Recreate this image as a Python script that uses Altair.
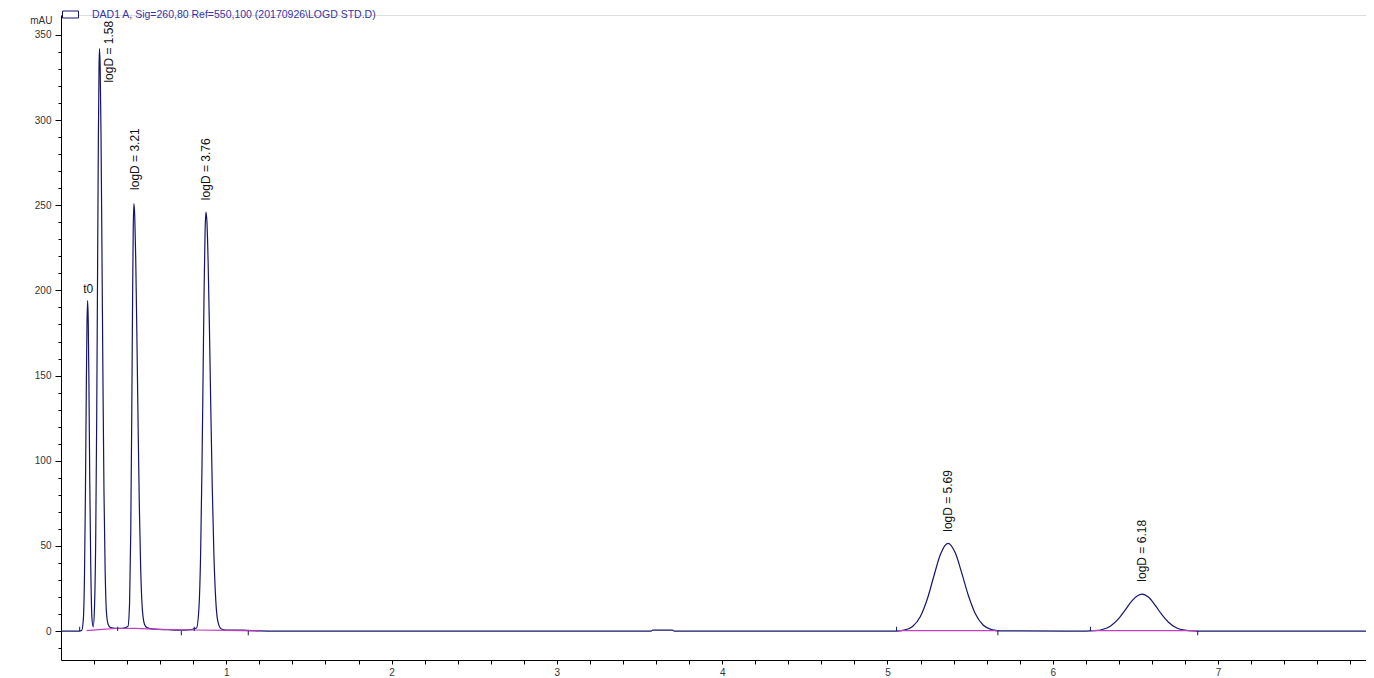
import altair as alt
import pandas as pd

legend_text = "DAD1 A, Sig=260,80 Ref=550,100 (20170926\\LOGD STD.D)"

# Chromatogram trace (retention time in min, absorbance in mAU)
trace_time = [0.000, 0.110, 0.125, 0.135, 0.142, 0.148, 0.153, 0.157, 0.161, 0.165, 0.169, 0.174, 0.180, 0.187, 0.195,
              0.203, 0.210, 0.216, 0.221, 0.226, 0.230, 0.233, 0.237, 0.242, 0.248, 0.254, 0.260, 0.267, 0.275, 0.285,
              0.300, 0.330, 0.370,
              0.405, 0.415, 0.422, 0.428, 0.433, 0.437, 0.441, 0.446, 0.452, 0.459, 0.466, 0.474, 0.482, 0.492, 0.505,
              0.520, 0.550, 0.650, 0.750,
              0.820, 0.835, 0.845, 0.853, 0.860, 0.866, 0.872, 0.877, 0.883, 0.890, 0.898, 0.906, 0.915, 0.925, 0.937,
              0.950, 0.970, 1.000, 1.100, 1.200, 1.250,
              3.570, 3.580, 3.700, 3.710,
              5.050, 5.100, 5.150, 5.200, 5.240, 5.280, 5.320, 5.366, 5.410, 5.450, 5.490, 5.530, 5.580, 5.630, 5.680,
              6.200, 6.250, 6.300, 6.350, 6.400, 6.440, 6.480, 6.539, 6.580, 6.620, 6.660, 6.700, 6.750, 6.800, 6.850,
              6.900, 7.950]
trace_mau = [0, 0, 0.3, 6.6, 32, 83, 141, 179, 194, 181, 145, 88, 38, 8, 2.5,
             15, 54, 125, 207, 288, 331, 342, 331, 292, 220, 145, 82, 36, 11, 4,
             2.0, 1.6, 1.6,
             2.7, 17, 58, 126, 194, 236, 251, 244, 219, 174, 124, 73, 37, 13, 4,
             2.0, 1.3, 0.8, 0.5,
             1.8, 14.4, 47, 97, 154, 202, 236, 246, 240, 217, 178, 132, 85, 45, 17,
             5.2, 1.2, 0.6, 0.5, 0.1, 0,
             0, 0.5, 0.5, 0,
             0, 0.5, 2.5, 8.7, 18.5, 32, 44.9, 51.5, 45.9, 33.9, 20.7, 10.5, 3.4, 0.8, 0.1,
             0, 0.2, 0.9, 3.0, 7.4, 12.6, 17.9, 21.7, 19.8, 15.1, 9.6, 5.2, 1.8, 0.5, 0.1,
             0, 0]

# Integration baselines (magenta)
base_segment = ["a"] * 8 + ["b"] * 2 + ["c"] * 2
base_time = [0.155, 0.250, 0.330, 0.450, 0.600, 0.800, 1.000, 1.200, 5.060, 5.665, 6.230, 6.875]
base_mau = [0.3, 1.0, 1.5, 1.6, 1.0, 0.6, 0.4, 0.1, 0.3, 0.3, 0.3, 0.3]

# Peak start / end event ticks
event_time = [0.113, 0.343, 0.728, 0.806, 1.133, 5.055, 5.668, 6.228, 6.877]
event_top = [2.5, 2.5, -2.5, 2.5, -2.5, 2.5, -2.5, 2.5, -2.5]

# Peak annotations
label_text = ["logD = 1.58", "logD = 3.21", "logD = 3.76", "logD = 5.69", "logD = 6.18"]
label_time = [0.292, 0.449, 0.879, 5.366, 6.539]
label_mau = [322, 259, 253, 58.3, 29]

t0_text = ["t0"]
t0_time = [0.165]
t0_mau = [201]

x_tick_values = [round(0.2 * i, 1) for i in range(1, 40)]
y_tick_values = list(range(-10, 360, 10))

X_DOMAIN = [0, 7.895]
Y_DOMAIN = [-17.0, 361.7]
NAVY = "#14146e"
FONT = "Liberation Sans"

trace_df = pd.DataFrame({"t": trace_time, "mau": trace_mau, "series": legend_text})
base_df = pd.DataFrame({"t": base_time, "mau": base_mau, "seg": base_segment})
event_df = pd.DataFrame({"t": event_time, "y0": [0] * len(event_time), "y1": event_top})
label_df = pd.DataFrame({"t": label_time, "mau": label_mau, "txt": label_text})
t0_df = pd.DataFrame({"t": t0_time, "mau": t0_mau, "txt": t0_text})

xscale = alt.Scale(domain=X_DOMAIN, nice=False, zero=False)
yscale = alt.Scale(domain=Y_DOMAIN, nice=False, zero=False)

x_axis = alt.Axis(
    values=x_tick_values, tickCount=500,
    labelExpr="abs(datum.value - round(datum.value)) < 0.001 ? format(datum.value, 'd') : ''",
    tickSize=4, tickColor="black", domainColor="black", domainWidth=1, tickWidth=1,
    labelFont=FONT, labelFontSize=10, labelColor="#333333", labelPadding=3,
    labelOverlap=False, labelFlush=False, grid=False, title=None,
)
y_axis = alt.Axis(
    values=y_tick_values, tickCount=500,
    labelExpr="datum.value % 50 === 0 ? datum.label : ''",
    tickSize={"condition": {"test": "datum.value % 50 === 0", "value": 6}, "value": 3},
    tickColor="black", domainColor="black", domainWidth=1, tickWidth=1,
    labelFont=FONT, labelFontSize=10, labelColor="#333333", labelPadding=4,
    labelOverlap=False, labelFlush=False, grid=False,
    title="mAU", titleAngle=0, titleAlign="right", titleBaseline="alphabetic",
    titleX=-9, titleY=8, titleFont=FONT, titleFontSize=10, titleFontWeight="normal",
    titleColor="#333333",
)

trace = alt.Chart(trace_df).mark_line(strokeWidth=1.2, interpolate="monotone", clip=True).encode(
    x=alt.X("t:Q", scale=xscale, axis=x_axis),
    y=alt.Y("mau:Q", scale=yscale, axis=y_axis),
    color=alt.Color(
        "series:N",
        scale=alt.Scale(domain=[legend_text], range=[NAVY]),
        legend=alt.Legend(
            orient="none", legendX=1, legendY=-9, title=None, padding=0,
            symbolType="M-1,-0.4375H1V0.4375H-1Z", symbolSize=256,
            symbolStrokeColor=NAVY, symbolFillColor="white", symbolStrokeWidth=1,
            labelFont=FONT, labelFontSize=10.5, labelColor="#3333aa", labelOffset=13,
            labelLimit=0,
        ),
    ),
)

baseline = alt.Chart(base_df).mark_line(strokeWidth=1.2, color="#c040c0", clip=True).encode(
    x="t:Q", y="mau:Q", detail="seg:N"
)

events = alt.Chart(event_df).mark_rule(strokeWidth=1, color=NAVY).encode(
    x="t:Q", y="y0:Q", y2="y1:Q"
)

labels = alt.Chart(label_df).mark_text(
    angle=270, align="left", baseline="middle", font=FONT, fontSize=12, color="#111111"
).encode(x="t:Q", y="mau:Q", text="txt:N")

t0_label = alt.Chart(t0_df).mark_text(
    align="center", baseline="middle", font=FONT, fontSize=12, color="#111111"
).encode(x="t:Q", y="mau:Q", text="txt:N")

chart = alt.layer(trace, baseline, events, labels, t0_label).properties(
    width=1305, height=645,
    autosize=alt.AutoSizeParams(type="none"),
    padding={"left": 53, "top": 7, "right": 0, "bottom": 16},
).configure_view(stroke=None).configure(background="white")

chart.save("out.html", embed_options={"renderer": "svg", "actions": False})
